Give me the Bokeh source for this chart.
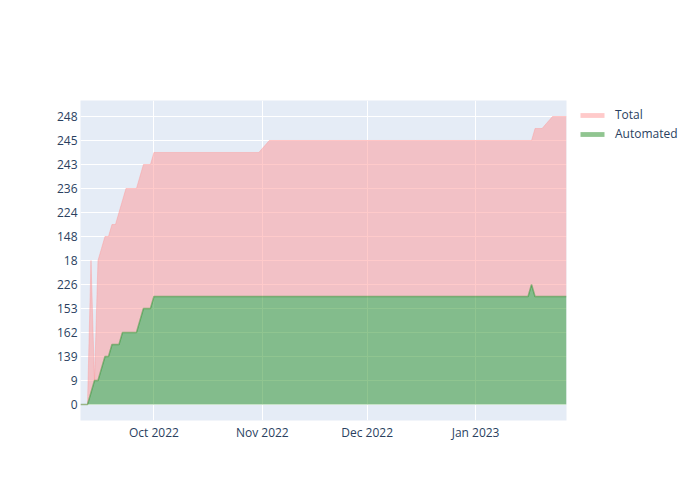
import pandas as pd
from bokeh.plotting import figure
from bokeh.models import ColumnDataSource, FixedTicker, Range1d, Legend, LegendItem
from bokeh.embed import file_html
from bokeh.resources import INLINE

# ---- data (y values are category positions on the categorical axis) ----
dates = ["2022-09-10", "2022-09-12", "2022-09-13", "2022-09-14", "2022-09-15",
         "2022-09-16", "2022-09-17", "2022-09-18", "2022-09-19", "2022-09-20",
         "2022-09-21", "2022-09-22", "2022-09-23", "2022-09-26", "2022-09-27",
         "2022-09-28", "2022-09-30", "2022-10-01", "2022-10-31", "2022-11-03",
         "2023-01-16", "2023-01-17", "2023-01-18", "2023-01-20", "2023-01-23",
         "2023-01-27"]
total_pos = [0, 0, 12, 2, 12, 13, 14, 14, 15, 15, 16, 17, 18, 18, 19, 20, 20, 21,
             21, 22, 22, 22, 23, 23, 24, 24]
automated_pos = [0, 0, 1, 2, 2, 3, 4, 4, 5, 5, 5, 6, 6, 6, 7, 8, 8, 9,
                 9, 9, 9, 10, 9, 9, 9, 9]

y_tick_pos = [0, 2, 4, 6, 8, 10, 12, 14, 16, 18, 20, 22, 24]
y_tick_labels = ["0", "9", "139", "162", "153", "226", "18", "148", "224",
                 "236", "243", "245", "248"]
x_tick_dates = ["2022-10-01", "2022-11-01", "2022-12-01", "2023-01-01"]
x_tick_labels = ["Oct 2022", "Nov 2022", "Dec 2022", "Jan 2023"]

FONT = "Open Sans"
TXT = "#2a3f5f"
PINK = (255, 150, 150)
GREEN = "forestgreen"

x = pd.to_datetime(dates)
src = ColumnDataSource(dict(x=x, total=total_pos, auto=automated_pos,
                            zero=[0] * len(dates)))

p = figure(frame_width=486, frame_height=320, x_axis_type="datetime",
           output_backend="svg", toolbar_location=None,
           x_range=Range1d(x[0], x[-1]), y_range=Range1d(-1.333, 25.333),
           min_border_left=80, min_border_right=126, min_border_top=100,
           min_border_bottom=72)
p.background_fill_color = "#E5ECF6"
p.border_fill_color = "white"
p.outline_line_color = None

g = p.varea(x="x", y1="zero", y2="auto", source=src, fill_color=GREEN, fill_alpha=0.5)
t = p.varea(x="x", y1="auto", y2="total", source=src, fill_color=PINK, fill_alpha=0.5)
p.line(x="x", y="total", source=src, line_color=PINK, line_alpha=0.4, line_width=1)
p.line(x="x", y="auto", source=src, line_color=GREEN, line_alpha=0.45, line_width=1.5)

# axes
xt = [float(v.value // 10**6) for v in pd.to_datetime(x_tick_dates)]
p.xaxis.ticker = FixedTicker(ticks=xt)
p.xaxis.major_label_overrides = {k: lab for k, lab in zip(xt, x_tick_labels)}
p.yaxis.ticker = FixedTicker(ticks=y_tick_pos)
p.yaxis.major_label_overrides = {k: lab for k, lab in zip(y_tick_pos, y_tick_labels)}
for ax in (p.xaxis[0], p.yaxis[0]):
    ax.axis_line_color = None
    ax.major_tick_line_color = None
    ax.minor_tick_line_color = None
    ax.major_tick_out = 0
    ax.major_tick_in = 0
    ax.major_label_text_font = FONT
    ax.major_label_text_font_size = "12px"
    ax.major_label_text_color = TXT
    ax.major_label_standoff = 3
p.xgrid.grid_line_color = "white"
p.ygrid.grid_line_color = "white"
p.xgrid.grid_line_width = 1
p.ygrid.grid_line_width = 1

legend = Legend(items=[LegendItem(label="Total", renderers=[t]),
                       LegendItem(label="Automated", renderers=[g])],
                location=(11, 277), orientation="vertical")
legend.label_text_font = FONT
legend.label_text_font_size = "12px"
legend.label_text_color = TXT
legend.background_fill_alpha = 0
legend.border_line_color = None
legend.spacing = 0
legend.label_height = 19
legend.glyph_height = 6
legend.glyph_width = 30
legend.padding = 4
legend.margin = 0
legend.label_standoff = 8
p.add_layout(legend, "right")

open("out.html", "w").write(file_html(p, INLINE))
